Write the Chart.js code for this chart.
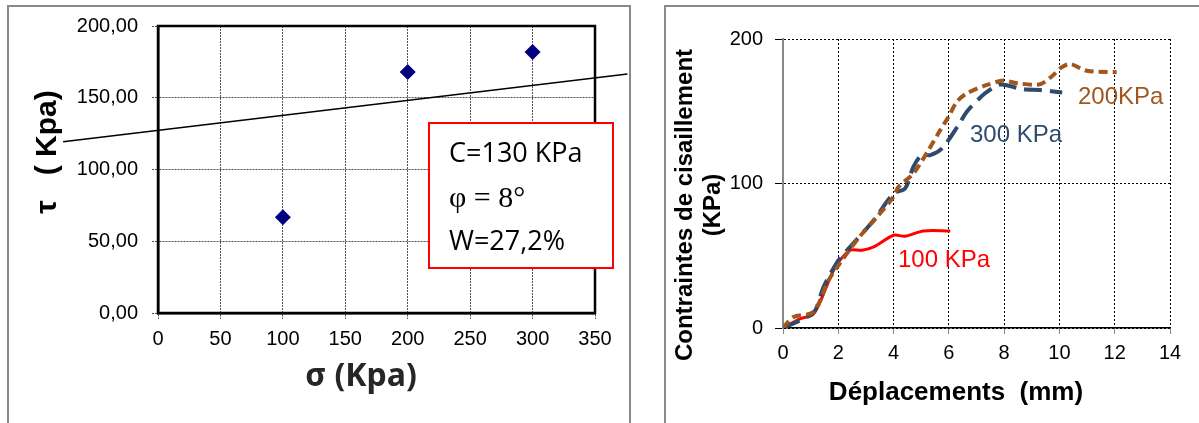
<!DOCTYPE html>
<html>
<head>
<meta charset="utf-8">
<script src="https://cdn.jsdelivr.net/npm/chart.js@4"></script>
<style>
  html, body { margin: 0; padding: 0; background: #fff; overflow: hidden; }
  body { width: 1199px; height: 423px; position: relative; }
  .frame { position: absolute; border: 2px solid #8a8a8a; border-bottom: none; }
  .box { position: absolute; }
</style>
</head>
<body>
<div class="frame" style="left:7px; top:5px; width:620px; height:430px;"></div>
<div class="frame" style="left:664px; top:5px; width:560px; height:430px;"></div>
<div class="box" style="left:0; top:0; width:640px; height:423px;"><canvas id="leftChart"></canvas></div>
<div class="box" style="left:640px; top:0; width:559px; height:423px;"><canvas id="rightChart"></canvas></div>
<script>
// left chart : shear strength vs normal stress
const sigmaValues = [100, 200, 300];
const tauValues = [66.7, 168, 181.8];
const fitSigma = [-76, 376];
const fitTau = [119.3, 166.5];
const sigmaTicks = [0, 50, 100, 150, 200, 250, 300, 350];
const tauTicks = [0, 50, 100, 150, 200];

// right chart : shear stress vs displacement
const disp100 = [0, 0.63, 1.05, 1.23, 1.47, 1.77, 2.01, 2.43, 2.86, 3.28, 4.0, 4.42, 5.08, 6.05];
const stress100 = [0, 6.5, 8.8, 13.4, 23.8, 37.7, 45.7, 53.8, 53.8, 56.1, 64.2, 63.5, 67.2, 67.2];
const disp300 = [0, 0.87, 1.17, 1.47, 2.01, 2.43, 3.28, 4.0, 4.42, 4.72, 5.02, 5.33, 5.75, 6.35, 6.65, 7.31, 7.8, 8.04, 8.7, 9.3, 10.1];
const stress300 = [0, 7.6, 12.3, 28.4, 46.9, 56.1, 74.6, 93, 96.6, 111.6, 119.7, 119.7, 124.3, 140.5, 149.7, 162.4, 168.2, 168.2, 165.2, 164.7, 162.9];
const disp200 = [0, 0.38, 1.1, 1.65, 2.01, 2.67, 3.4, 4.0, 4.18, 4.72, 5.26, 5.69, 5.99, 6.29, 6.65, 7.38, 7.98, 8.46, 9.3, 9.78, 10.03, 10.39, 10.99, 12.07];
const stress200 = [0, 7.6, 11.1, 33, 43.4, 60.8, 76.9, 90.8, 97.7, 107, 123, 137, 146.2, 156.6, 162.4, 168.2, 171.2, 169.4, 168.7, 175.1, 179.8, 182.7, 178, 177];
const dispTicks = [0, 2, 4, 6, 8, 10, 12, 14];
const stressTicks = [0, 100, 200];

const ARIAL = "'Liberation Sans', Arial, sans-serif";
const toPoints = (xs, ys) => xs.map((x, i) => ({ x: x, y: ys[i] }));

function leftChart() {
    const textPlugin = {
        id: 'leftText',
        afterDraw(chart) {
            const ctx = chart.ctx;
            const a = chart.chartArea;
            ctx.save();
            // plot frame
            ctx.strokeStyle = '#000';
            ctx.lineWidth = 2.5;
            ctx.strokeRect(a.left, a.top, a.right - a.left, a.bottom - a.top);

            // y title
            ctx.save();
            ctx.translate(48, 152);
            ctx.rotate(-Math.PI / 2);
            ctx.fillStyle = '#000';
            ctx.font = "bold 30px " + ARIAL;
            ctx.textAlign = 'center';
            ctx.textBaseline = 'middle';
            ctx.fillText('τ   ( Kpa)', 0, 0);
            ctx.restore();

            // x title
            ctx.fillStyle = '#262626';
            ctx.font = "bold 32px 'Noto Sans', 'Open Sans', sans-serif";
            ctx.textAlign = 'center';
            ctx.textBaseline = 'middle';
            ctx.fillText('σ (Kpa)', 361, 377);

            // result box
            ctx.fillStyle = '#fff';
            ctx.fillRect(429, 123, 184, 145);
            ctx.strokeStyle = '#ff0000';
            ctx.lineWidth = 2;
            ctx.strokeRect(429, 123, 184, 145);
            ctx.fillStyle = '#000';
            ctx.textAlign = 'left';
            ctx.font = "27px 'Open Sans', sans-serif";
            ctx.fillText('C=130 KPa', 449, 154);
            ctx.font = "30px 'Liberation Serif', 'DejaVu Serif', serif";
            ctx.fillText('φ = 8°', 449, 199);
            ctx.font = "27px 'Open Sans', sans-serif";
            ctx.fillText('W=27,2%', 449, 242);
            ctx.restore();
        }
    };

    const config = {
        type: 'scatter',
        data: {
            datasets: [
                {
                    data: toPoints(sigmaValues, tauValues),
                    pointStyle: 'rectRot',
                    pointRadius: 8,
                    pointHoverRadius: 8,
                    backgroundColor: '#000080',
                    borderColor: '#000080',
                    borderWidth: 0
                },
                {
                    data: toPoints(fitSigma, fitTau),
                    showLine: true,
                    pointRadius: 0,
                    borderColor: '#000',
                    borderWidth: 1.6,
                    clip: false
                }
            ]
        },
        options: {
            responsive: false,
            animation: false,
            layout: { padding: { left: 58, top: 19, right: 45, bottom: 50 } },
            plugins: { legend: { display: false }, tooltip: { enabled: false } },
            scales: {
                x: {
                    type: 'linear',
                    min: sigmaTicks[0],
                    max: sigmaTicks[sigmaTicks.length - 1],
                    afterBuildTicks: s => { s.ticks = sigmaTicks.map(v => ({ value: v })); },
                    afterFit: s => { s.height = 60; },
                    ticks: { color: '#000', font: { family: ARIAL, size: 20 }, padding: 8, maxRotation: 0 },
                    grid: { color: '#555', lineWidth: 1, tickLength: 6, tickColor: '#555', tickBorderDash: [2, 1] },
                    border: { color: '#000', width: 2.5, dash: [2, 1] }
                },
                y: {
                    type: 'linear',
                    min: tauTicks[0],
                    max: tauTicks[tauTicks.length - 1],
                    afterBuildTicks: s => { s.ticks = tauTicks.map(v => ({ value: v })); },
                    afterFit: s => { s.width = 100; },
                    ticks: {
                        color: '#000',
                        font: { family: ARIAL, size: 20 },
                        padding: 14,
                        callback: v => v.toFixed(2).replace('.', ',')
                    },
                    grid: { color: '#555', lineWidth: 1, tickLength: 6, tickColor: '#555', tickBorderDash: [2, 1] },
                    border: { color: '#000', width: 2.5, dash: [2, 1] }
                }
            }
        },
        plugins: [textPlugin]
    };

    const canvas = document.getElementById('leftChart');
    canvas.width = 640;
    canvas.height = 423;
    new Chart(canvas.getContext('2d'), config);
}

function rightChart() {
    const blue = '#2e4a6e';
    const brown = '#a0561c';

    const textPlugin = {
        id: 'rightText',
        afterDraw(chart) {
            const ctx = chart.ctx;
            ctx.save();
            ctx.fillStyle = '#000';
            ctx.font = "bold 24px " + ARIAL;
            ctx.textAlign = 'center';
            ctx.textBaseline = 'middle';
            ctx.save();
            ctx.translate(45, 205);
            ctx.rotate(-Math.PI / 2);
            ctx.fillText('Contraintes de cisaillement', 0, 0);
            ctx.restore();
            ctx.save();
            ctx.translate(73, 205);
            ctx.rotate(-Math.PI / 2);
            ctx.fillText('(KPa)', 0, 0);
            ctx.restore();

            ctx.font = "bold 26px " + ARIAL;
            ctx.fillText('Déplacements  (mm)', 316, 393);

            ctx.font = "24px " + ARIAL;
            ctx.textAlign = 'left';
            ctx.fillStyle = brown;
            ctx.fillText('200KPa', 438, 97);
            ctx.fillStyle = blue;
            ctx.fillText('300 KPa', 330, 135);
            ctx.fillStyle = '#ff0000';
            ctx.fillText('100 KPa', 258, 260);
            ctx.restore();
        }
    };

    const config = {
        type: 'scatter',
        data: {
            datasets: [
                {
                    label: '200KPa',
                    data: toPoints(disp200, stress200),
                    showLine: true,
                    pointRadius: 0,
                    borderColor: brown,
                    borderWidth: 4,
                    borderDash: [9, 5],
                    tension: 0.3
                },
                {
                    label: '300 KPa',
                    data: toPoints(disp300, stress300),
                    showLine: true,
                    pointRadius: 0,
                    borderColor: blue,
                    borderWidth: 4,
                    borderDash: [18, 8],
                    tension: 0.3
                },
                {
                    label: '100 KPa',
                    data: toPoints(disp100, stress100),
                    showLine: true,
                    pointRadius: 0,
                    borderColor: '#ff0000',
                    borderWidth: 3,
                    tension: 0.3
                }
            ]
        },
        options: {
            responsive: false,
            animation: false,
            layout: { padding: { left: 43, top: 39, right: 29, bottom: 45 } },
            plugins: { legend: { display: false }, tooltip: { enabled: false } },
            scales: {
                x: {
                    type: 'linear',
                    min: dispTicks[0],
                    max: dispTicks[dispTicks.length - 1],
                    afterBuildTicks: s => { s.ticks = dispTicks.map(v => ({ value: v })); },
                    afterFit: s => { s.height = 50; },
                    ticks: { color: '#000', font: { family: ARIAL, size: 20 }, padding: 7, maxRotation: 0 },
                    grid: { color: '#000', lineWidth: 1, tickLength: 6, tickColor: '#888' },
                    border: { color: '#000', width: 1.5, dash: [2, 2] }
                },
                y: {
                    type: 'linear',
                    min: stressTicks[0],
                    max: stressTicks[stressTicks.length - 1],
                    afterBuildTicks: s => { s.ticks = stressTicks.map(v => ({ value: v })); },
                    afterFit: s => { s.width = 100; },
                    ticks: { color: '#000', font: { family: ARIAL, size: 20 }, padding: 12 },
                    grid: { color: '#000', lineWidth: 1, tickLength: 8, tickColor: '#000' },
                    border: { color: '#888', width: 2, dash: [2, 2] }
                }
            }
        },
        plugins: [textPlugin]
    };

    const canvas = document.getElementById('rightChart');
    canvas.width = 559;
    canvas.height = 423;
    new Chart(canvas.getContext('2d'), config);
}

leftChart();
rightChart();
</script>
</body>
</html>
